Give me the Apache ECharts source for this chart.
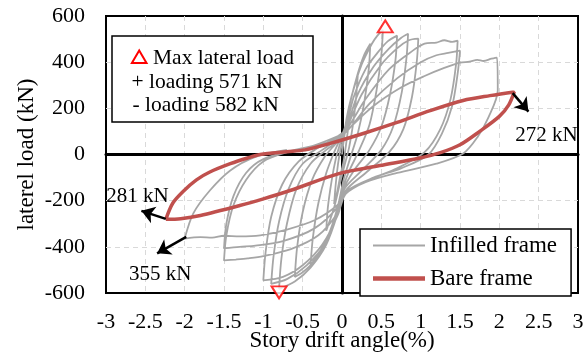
<!DOCTYPE html>
<html>
<head>
<meta charset="utf-8">
<script src="https://cdn.jsdelivr.net/npm/echarts@6/dist/echarts.min.js"></script>
<style>
  html, body { margin: 0; padding: 0; background: #fff; }
  #chart { width: 585px; height: 356px; }
</style>
</head>
<body>
<div id="chart"></div>
<script>
// infilled frame, one array per loading cycle: [drift angle %, load kN]
const cycle1 = [[0, 0], [0.03, 80], [0.07, 150], [0.1, 195], [0.08, 120], [0.05, 40], [0.02, -30], [-0.02, -90], [-0.06, -160], [-0.1, -215], [-0.08, -130], [-0.05, -40], [-0.02, 20]];
const cycle2 = [[0.02, 70], [0.06, 160], [0.12, 250], [0.2, 340], [0.18, 250], [0.14, 130], [0.09, 30], [0.03, -50], [-0.03, -130], [-0.1, -230], [-0.2, -330], [-0.18, -230], [-0.13, -110], [-0.08, -20], [-0.03, 40]];
const cycle3 = [[0.03, 100], [0.1, 220], [0.2, 350], [0.28, 430], [0.36, 480], [0.34, 370], [0.28, 220], [0.2, 90], [0.1, -20], [0.02, -110], [-0.05, -220], [-0.15, -330], [-0.28, -420], [-0.4, -480], [-0.37, -360], [-0.3, -210], [-0.2, -80], [-0.1, 10], [-0.02, 70]];
const cycle4 = [[0.04, 120], [0.12, 250], [0.25, 390], [0.38, 480], [0.45, 515], [0.52, 540], [0.5, 430], [0.44, 280], [0.35, 130], [0.22, 20], [0.08, -80], [0, -160], [-0.08, -270], [-0.2, -380], [-0.35, -460], [-0.5, -510], [-0.6, -530], [-0.57, -400], [-0.5, -250], [-0.38, -110], [-0.22, -10], [-0.05, 60]];
const cycle5 = [[0.04, 110], [0.15, 250], [0.3, 370], [0.45, 440], [0.58, 490], [0.7, 515], [0.68, 410], [0.61, 260], [0.5, 120], [0.35, 20], [0.15, -70], [0.02, -150], [-0.06, -260], [-0.2, -390], [-0.4, -490], [-0.6, -550], [-0.8, -582], [-0.77, -450], [-0.7, -300], [-0.58, -150], [-0.4, -40], [-0.2, 20], [-0.05, 60]];
const cycle6 = [[0.05, 110], [0.2, 260], [0.4, 380], [0.6, 460], [0.75, 505], [0.84, 523], [0.82, 420], [0.76, 270], [0.65, 120], [0.5, 20], [0.25, -70], [0.03, -150], [-0.05, -250], [-0.2, -380], [-0.45, -480], [-0.7, -540], [-0.9, -560], [-0.87, -440], [-0.8, -290], [-0.68, -150], [-0.5, -40], [-0.25, 20], [-0.05, 70]];
const cycle7 = [[0.05, 110], [0.25, 260], [0.5, 390], [0.7, 460], [0.85, 495], [0.97, 502], [0.95, 400], [0.89, 250], [0.78, 110], [0.6, 10], [0.3, -80], [0.04, -160], [-0.05, -260], [-0.25, -390], [-0.5, -480], [-0.75, -530], [-1.0, -545], [-0.97, -420], [-0.9, -270], [-0.76, -130], [-0.55, -30], [-0.3, 30], [-0.05, 80]];
const cycle8 = [[0.06, 110], [0.3, 240], [0.6, 370], [0.9, 450], [1.05, 480], [1.2, 485], [1.3, 495], [1.4, 488], [1.47, 493], [1.45, 390], [1.38, 240], [1.25, 110], [1.05, 10], [0.7, -60], [0.35, -110], [0.05, -170], [-0.05, -250], [-0.3, -350], [-0.65, -410], [-1.0, -440], [-1.2, -450], [-1.35, -455], [-1.5, -459], [-1.47, -350], [-1.38, -220], [-1.22, -110], [-1.0, -30], [-0.7, 10], [-0.35, 40], [-0.05, 80]];
const cycle9 = [[0.06, 100], [0.35, 220], [0.7, 330], [1.0, 400], [1.2, 430], [1.35, 440], [1.5, 450], [1.47, 350], [1.4, 210], [1.27, 90], [1.1, 0], [0.75, -60], [0.4, -100], [0.05, -160], [-0.06, -230], [-0.35, -320], [-0.75, -375], [-1.1, -395], [-1.3, -400], [-1.5, -407], [-1.47, -300], [-1.38, -180], [-1.22, -80], [-1.0, -20], [-0.6, 20], [-0.2, 50], [0, 80]];
const cycle10 = [[0.08, 110], [0.4, 210], [0.75, 290], [1.05, 340], [1.3, 375], [1.5, 398], [1.62, 402], [1.72, 410], [1.8, 405], [1.9, 415], [1.97, 420], [1.98, 277], [1.86, 160], [1.72, 74], [1.54, 4], [1.2, -40], [0.7, -80], [0.3, -120], [0.04, -170], [-0.06, -220], [-0.35, -285], [-0.7, -325], [-1.04, -350], [-1.3, -355], [-1.5, -352], [-1.65, -360], [-1.8, -358], [-2.0, -364], [-1.89, -255], [-1.68, -156], [-1.42, -69], [-1.1, -10], [-0.7, 20]];

// bare frame, single loop
const bareUpper = [[-2.24, -281], [-2.15, -210], [-2.02, -160], [-1.85, -110], [-1.68, -76], [-1.42, -40], [-1.2, -15], [-1.04, 0], [-0.7, 12], [-0.47, 20], [-0.15, 48], [0.27, 91], [0.7, 139], [1.12, 190], [1.54, 234], [1.88, 255], [2.19, 271]];
const bareLower = [[2.12, 215], [2.0, 165], [1.75, 100], [1.5, 42], [1.25, 8], [0.99, -15], [0.48, -48], [-0.03, -82], [-0.66, -156], [-1.0, -192], [-1.3, -221], [-1.8, -264], [-2.05, -278], [-2.24, -281]];

const maxPos = [[0.55, 555]];
const maxNeg = [[-0.8, -597]];
const peakLabels = ['272 kN', '281 kN', '355 kN'];

const infilled = [].concat(cycle1, cycle2, cycle3, cycle4, cycle5, cycle6, cycle7, cycle8, cycle9, cycle10);
const bare = [].concat(bareUpper, bareLower);

const FONT = '"Liberation Serif", "Times New Roman", serif';
const chart = echarts.init(document.getElementById('chart'));

const splitLine = { show: true, showMinLine: false, showMaxLine: false, lineStyle: { color: '#d9d9d9', type: [5, 4], width: 1 } };

chart.setOption({
  animation: false,
  grid: { left: 106, right: 7, top: 16, bottom: 63, outerBoundsMode: 'none', containLabel: false, show: true, borderColor: '#000', borderWidth: 2 },
  legend: {
    orient: 'vertical',
    left: 360,
    top: 229,
    padding: [5, 14, 6, 13],
    itemGap: 10,
    itemWidth: 52,
    itemHeight: 10,
    selectedMode: false,
    borderColor: '#000',
    borderWidth: 1.5,
    borderRadius: 0,
    backgroundColor: '#fff',
    textStyle: { fontFamily: FONT, fontSize: 23, color: '#000' },
    data: [
      { name: 'Infilled frame', icon: 'path://M0,0H52V2H0Z' },
      { name: 'Bare frame', icon: 'path://M0,0H52V4.5H0Z' }
    ]
  },
  xAxis: [
    {
      type: 'value', min: -3, max: 3, interval: 0.5,
      name: 'Story drift angle(%)', nameLocation: 'middle', nameGap: 36, nameMoveOverlap: false,
      nameTextStyle: { fontFamily: FONT, fontSize: 23, color: '#000' },
      axisLine: { show: false, onZero: false },
      axisTick: { show: false },
      axisLabel: { fontFamily: FONT, fontSize: 22, color: '#000', margin: 18 },
      splitLine: splitLine
    },
    {
      type: 'value', min: -3, max: 3,
      axisLine: { show: true, onZero: true, lineStyle: { color: '#000', width: 3 } },
      axisTick: { show: false }, axisLabel: { show: false }, splitLine: { show: false }
    }
  ],
  yAxis: [
    {
      type: 'value', min: -600, max: 600, interval: 200,
      name: 'laterel load (kN)', nameLocation: 'middle', nameGap: 68, nameMoveOverlap: false,
      nameTextStyle: { fontFamily: FONT, fontSize: 23, color: '#000' },
      axisLine: { show: false, onZero: false },
      axisTick: { show: false },
      axisLabel: { fontFamily: FONT, fontSize: 22, color: '#000', margin: 21 },
      splitLine: splitLine
    },
    {
      type: 'value', min: -600, max: 600,
      axisLine: { show: true, onZero: true, lineStyle: { color: '#000', width: 3 } },
      axisTick: { show: false }, axisLabel: { show: false }, splitLine: { show: false }
    }
  ],
  series: [
    {
      name: 'Infilled frame', type: 'line', data: infilled, smooth: 0.3,
      showSymbol: false, symbol: 'none', z: 2,
      itemStyle: { color: '#a6a6a6' },
      lineStyle: { color: '#a6a6a6', width: 1.8 }
    },
    {
      name: 'Bare frame', type: 'line', data: bare, smooth: 0.3,
      showSymbol: false, symbol: 'none', z: 3,
      itemStyle: { color: '#c0504d' },
      lineStyle: { color: '#c0504d', width: 3.5 }
    },
    {
      name: 'max+', type: 'scatter', data: maxPos, symbol: 'triangle', symbolSize: [15, 12], z: 4,
      itemStyle: { color: '#fff', borderColor: '#ff0000', borderWidth: 2 }
    },
    {
      name: 'max-', type: 'scatter', data: maxNeg, symbol: 'triangle', symbolSize: [15, 12], symbolRotate: 180, z: 4,
      itemStyle: { color: '#fff', borderColor: '#ff0000', borderWidth: 2 },
      markLine: {
        silent: true,
        symbol: ['none', 'arrow'],
        symbolSize: 13,
        label: { show: false },
        lineStyle: { color: '#000', width: 2.5, type: 'solid' },
        data: [
          [{ coord: [2.17, 266] }, { coord: [2.37, 186] }],
          [{ coord: [-2.24, -279] }, { coord: [-2.55, -244] }],
          [{ coord: [-1.98, -357] }, { coord: [-2.35, -428] }]
        ]
      }
    }
  ]
});

// annotation texts next to the arrows, placed in data space
const labelAt = [[2.60, 82], [-2.60, -182], [-2.31, -521]];
const labelGraphics = peakLabels.map(function (t, i) {
  const p = chart.convertToPixel({ xAxisIndex: 0, yAxisIndex: 0 }, labelAt[i]);
  return {
    type: 'text', z: 50,
    style: { x: p[0], y: p[1], text: t, align: 'center', verticalAlign: 'middle', font: '21px ' + FONT, fill: '#000' }
  };
});

chart.setOption({
  graphic: [
    { type: 'rect', z: 40, shape: { x: 112, y: 36, width: 201, height: 86 }, style: { fill: '#fff', stroke: null } },
    { type: 'polygon', z: 41, shape: { points: [[139.2, 50.5], [146.5, 63], [131.9, 63]] }, style: { fill: 'none', stroke: '#ff0000', lineWidth: 2 } },
    { type: 'text', z: 41, style: { x: 153, y: 58, text: 'Max lateral load', verticalAlign: 'middle', font: '21.5px ' + FONT, fill: '#000' } },
    { type: 'text', z: 41, style: { x: 131.5, y: 82, text: '+ loading 571 kN', verticalAlign: 'middle', font: '21.5px ' + FONT, fill: '#000' } },
    { type: 'text', z: 41, style: { x: 132.5, y: 105, text: '- loading 582 kN', verticalAlign: 'middle', font: '21.5px ' + FONT, fill: '#000' } },
    { type: 'rect', z: 42, shape: { x: 113, y: 111, width: 199, height: 10 }, style: { fill: '#fff', stroke: null } },
    { type: 'rect', z: 43, shape: { x: 112, y: 36, width: 201, height: 86 }, style: { fill: 'none', stroke: '#000', lineWidth: 1.5 } }
  ].concat(labelGraphics)
});
</script>
</body>
</html>
